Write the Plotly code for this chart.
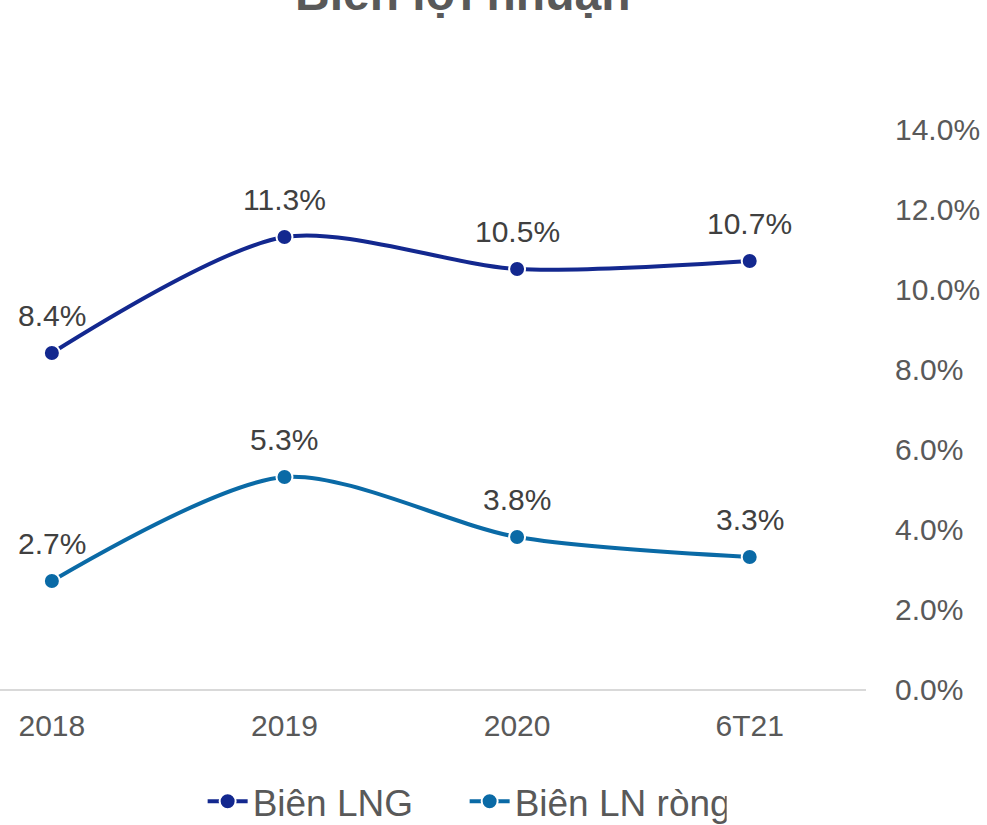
import plotly.graph_objects as go

categories = ["2018", "2019", "2020", "6T21"]
bien_lng = [8.4, 11.3, 10.5, 10.7]
bien_ln_rong = [2.7, 5.3, 3.8, 3.3]
y_ticks = [0, 2, 4, 6, 8, 10, 12, 14]
y_tick_labels = [f"{v:.1f}%" for v in y_ticks]

FONT = "Liberation Sans, Arial, sans-serif"
GRAY = "#595959"
DARK = "#404040"
C1 = "#13288F"
C2 = "#0A6AA6"

fig = go.Figure()
for name, vals, col in [("Biên LNG", bien_lng, C1), ("Biên LN ròng", bien_ln_rong, C2)]:
    fig.add_trace(go.Scatter(
        x=categories, y=vals, name=name, mode="lines+markers",
        line=dict(color=col, width=4, shape="spline", smoothing=0.8),
        marker=dict(size=16, color=col, line=dict(color="white", width=2)),
        cliponaxis=False,
    ))
    for i, v in enumerate(vals):
        fig.add_annotation(x=i, y=v, xref="x", yref="y", text=f"{v:.1f}%", showarrow=False,
                           yshift=38, font=dict(family=FONT, size=30, color=DARK))

fig.add_annotation(xref="paper", yref="paper", x=0.534, y=1.0, yshift=107, yanchor="bottom",
                   text="<b>Biên lợi nhuận</b>", showarrow=False,
                   font=dict(family=FONT, size=48, color=GRAY))

fig.update_layout(
    width=987, height=825,
    margin=dict(l=0, r=121, t=129, b=136, autoexpand=False),
    paper_bgcolor="white", plot_bgcolor="white",
    font=dict(family=FONT, color=GRAY),
    showlegend=True,
    legend=dict(orientation="h", x=0.234, xanchor="left", y=-0.146, yanchor="top",
                font=dict(family=FONT, size=37, color=GRAY), itemwidth=40,
                entrywidth=207, entrywidthmode="pixels"),
    xaxis=dict(type="category", range=[-0.223, 3.5], showgrid=False, zeroline=False,
               showline=True, linecolor="#D9D9D9", linewidth=2, ticks="", automargin=False,
               tickfont=dict(family=FONT, size=30, color=GRAY), ticklabelstandoff=9),
    yaxis=dict(range=[0, 14], side="right", tickvals=y_ticks, ticktext=y_tick_labels,
               showgrid=False, zeroline=False, showline=False, ticks="", automargin=False,
               tickfont=dict(family=FONT, size=30, color=GRAY), ticklabelstandoff=28),
)

fig.write_html("out.html", config={"displayModeBar": False},
               post_script="document.body.style.margin='0';")
